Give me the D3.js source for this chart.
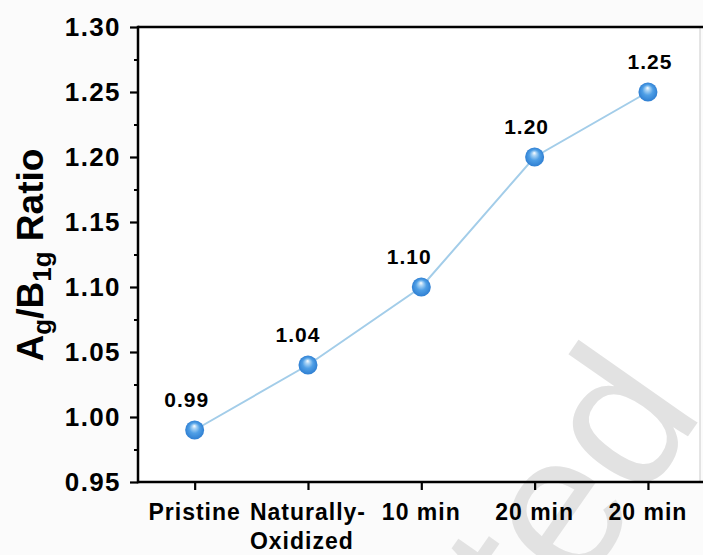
<!DOCTYPE html>
<html>
<head>
<meta charset="utf-8">
<script src="https://cdn.jsdelivr.net/npm/d3@7"></script>
<style>
  html, body { margin: 0; padding: 0; background: #fbfbfb; }
  svg { display: block; }
  text { font-family: "Liberation Sans", Arial, Helvetica, sans-serif; }
</style>
</head>
<body>
<svg id="chart" width="703" height="555"></svg>
<script>
// Sample conditions along the x axis (multi-line labels are split into lines)
const categories = [["Pristine"], ["Naturally-", "Oxidized"], ["10 min"], ["20 min"], ["20 min"]];
// Ag/B1g intensity ratio measured for each condition
const ratios = [0.99, 1.04, 1.10, 1.20, 1.25];
// Value labels printed above each point
const valueLabels = ["0.99", "1.04", "1.10", "1.20", "1.25"];
// Y axis ticks
const yMajorTicks = [0.95, 1.00, 1.05, 1.10, 1.15, 1.20, 1.25, 1.30];
const yMinorTicks = [0.975, 1.025, 1.075, 1.125, 1.175, 1.225, 1.275];
const yTickLabels = ["0.95", "1.00", "1.05", "1.10", "1.15", "1.20", "1.25", "1.30"];

// small horizontal nudges for the value labels
const labelNudge = [-8, -10, -12, -8, 2];

const W = 703, H = 555;
const plot = { left: 138, right: 704.6, top: 27, bottom: 482 };

const svg = d3.select("#chart");

const x = d3.scaleLinear().domain([-0.5, categories.length - 0.5]).range([plot.left, plot.right]);
const y = d3.scaleLinear().domain([0.95, 1.30]).range([plot.bottom, plot.top]);

// plot background
svg.append("rect")
  .attr("x", plot.left).attr("y", plot.top)
  .attr("width", 700 - plot.left).attr("height", plot.bottom - plot.top)
  .attr("fill", "#ffffff");

// faint diagonal watermark
svg.append("text")
  .attr("transform", "translate(705,412) rotate(-55)")
  .attr("text-anchor", "end")
  .attr("font-size", 200)
  .attr("fill", "#e2e2e2")
  .text("Accepted");

// right border of the frame (light)
svg.append("line")
  .attr("x1", 700).attr("x2", 700).attr("y1", plot.top).attr("y2", plot.bottom)
  .attr("stroke", "#d4d4d4").attr("stroke-width", 1.2);

// Y axis: major ticks with labels
const yAxis = svg.append("g")
  .attr("transform", `translate(${plot.left},0)`)
  .call(d3.axisLeft(y).tickValues(yMajorTicks).tickSize(8).tickPadding(9)
    .tickFormat((d, i) => yTickLabels[i]));
yAxis.select(".domain").remove();
yAxis.selectAll(".tick line").attr("stroke", "#000").attr("stroke-width", 2.2);
yAxis.selectAll(".tick text")
  .attr("fill", "#000")
  .attr("font-size", 26)
  .attr("font-weight", "bold")
  .attr("letter-spacing", "1.4px")
  .attr("font-family", "Liberation Sans, Arial, sans-serif");

// Y axis: minor ticks
const yMinor = svg.append("g")
  .attr("transform", `translate(${plot.left},0)`)
  .call(d3.axisLeft(y).tickValues(yMinorTicks).tickSize(4).tickFormat(""));
yMinor.select(".domain").remove();
yMinor.selectAll(".tick line").attr("stroke", "#000").attr("stroke-width", 2);

// X axis ticks
const xAxis = svg.append("g")
  .attr("transform", `translate(0,${plot.bottom})`)
  .call(d3.axisBottom(x).tickValues(d3.range(categories.length)).tickSize(8).tickFormat(""));
xAxis.select(".domain").remove();
xAxis.selectAll(".tick line").attr("stroke", "#000").attr("stroke-width", 2.2);

// X category labels (multi-line blocks, left aligned within the block, centred on the tick)
categories.forEach((lines, i) => {
  const t = svg.append("text")
    .attr("font-size", 23)
    .attr("font-weight", "bold")
    .attr("letter-spacing", "1px")
    .attr("fill", "#000")
    .attr("text-anchor", "start");
  lines.forEach((line, k) => {
    t.append("tspan").attr("x", 0).attr("y", 520 + k * 29).text(line);
  });
  const bw = t.node().getBBox().width;
  t.attr("transform", `translate(${x(i) - bw / 2},0)`);
});

// frame lines: left, bottom, top
svg.append("line").attr("x1", plot.left).attr("x2", plot.left)
  .attr("y1", plot.top - 1.2).attr("y2", plot.bottom + 1.2)
  .attr("stroke", "#000").attr("stroke-width", 2.5);
svg.append("line").attr("x1", plot.left).attr("x2", W)
  .attr("y1", plot.bottom).attr("y2", plot.bottom)
  .attr("stroke", "#000").attr("stroke-width", 2.5);
svg.append("line").attr("x1", plot.left).attr("x2", W)
  .attr("y1", plot.top).attr("y2", plot.top)
  .attr("stroke", "#000").attr("stroke-width", 2.5);

// Y axis title: Ag/B1g Ratio
const title = svg.append("text")
  .attr("transform", `translate(43,255) rotate(-90)`)
  .attr("text-anchor", "middle")
  .attr("font-size", 37)
  .attr("font-weight", "bold")
  .attr("fill", "#000");
title.append("tspan").text("A");
title.append("tspan").attr("font-size", 26).attr("dy", 8).text("g");
title.append("tspan").attr("dy", -8).text("/B");
title.append("tspan").attr("font-size", 26).attr("dy", 8).text("1g");
title.append("tspan").attr("dy", -8).text(" Ratio");

// sphere gradient for markers
const defs = svg.append("defs");
const grad = defs.append("radialGradient")
  .attr("id", "ball")
  .attr("cx", "50%").attr("cy", "50%").attr("r", "50%")
  .attr("fx", "48%").attr("fy", "28%");
grad.append("stop").attr("offset", "0%").attr("stop-color", "#ffffff");
grad.append("stop").attr("offset", "22%").attr("stop-color", "#a9d3f5");
grad.append("stop").attr("offset", "55%").attr("stop-color", "#4f9fe6");
grad.append("stop").attr("offset", "100%").attr("stop-color", "#2f7fd2");

// connecting line
const line = d3.line().x((d, i) => x(i)).y(d => y(d));
svg.append("path")
  .datum(ratios)
  .attr("d", line)
  .attr("fill", "none")
  .attr("stroke", "#a3cde9")
  .attr("stroke-width", 2);

// markers
svg.selectAll("circle.pt")
  .data(ratios)
  .join("circle")
  .attr("class", "pt")
  .attr("cx", (d, i) => x(i))
  .attr("cy", d => y(d))
  .attr("r", 9.5)
  .attr("fill", "url(#ball)");

// value labels
svg.selectAll("text.val")
  .data(ratios)
  .join("text")
  .attr("class", "val")
  .attr("x", (d, i) => x(i) + labelNudge[i])
  .attr("y", d => y(d) - 23)
  .attr("text-anchor", "middle")
  .attr("font-size", 21)
  .attr("font-weight", "bold")
  .attr("letter-spacing", "1px")
  .attr("fill", "#000")
  .text((d, i) => valueLabels[i]);
</script>
</body>
</html>
